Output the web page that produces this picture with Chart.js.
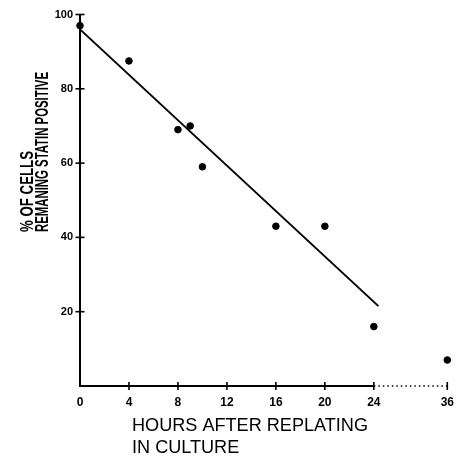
<!DOCTYPE html>
<html>
<head>
<meta charset="utf-8">
<script src="https://cdn.jsdelivr.net/npm/chart.js@4.4.1/dist/chart.umd.min.js"></script>
<style>
  html, body { margin: 0; padding: 0; background: #fff; }
  #wrap { width: 456px; height: 456px; }
</style>
</head>
<body>
<div id="wrap"><canvas id="c" width="456" height="456"></canvas></div>
<script>
// ---- data ----
const hours = [0, 4, 8, 9, 10, 16, 20, 24, 36];
const percentStatin = [97, 87.5, 69, 70, 59, 43, 43, 16, 7];
const fitHours = [0, 24.75];
const fitPercent = [96, 21.5];
const xTickHours = [0, 4, 8, 12, 16, 20, 24, 36];
const yTickValues = [20, 40, 60, 80, 100];
const xTitleLines = ["HOURS AFTER REPLATING", "IN CULTURE"];
const yTitleLines = ["% OF CELLS", "REMANING STATIN POSITIVE"];

// broken axis: hours beyond 24 are drawn compressed
const BREAK_HOUR = 24;
function axisPos(h) { return h <= BREAK_HOUR ? h : BREAK_HOUR + (h - BREAK_HOUR) * 0.5; }

const scatterData = hours.map((h, i) => ({ x: axisPos(h), y: percentStatin[i] }));
const fitData = fitHours.map((h, i) => ({ x: axisPos(h), y: fitPercent[i] }));

const PAD = { left: 4, right: 8.7, top: 14.5, bottom: 4 };
const AXIS_LEFT = 80, AXIS_BOTTOM = 386;

const decorPlugin = {
  id: 'decor',
  afterDraw(chart) {
    const ctx = chart.ctx;
    const xs = chart.scales.x, ys = chart.scales.y;
    const y0 = ys.getPixelForValue(0);
    const x0 = xs.getPixelForValue(0);
    const xBreak = xs.getPixelForValue(axisPos(BREAK_HOUR));
    const xEnd = xs.getPixelForValue(axisPos(36));
    ctx.save();
    ctx.strokeStyle = '#000';
    // solid x axis up to break
    ctx.lineWidth = 2;
    ctx.beginPath(); ctx.moveTo(x0 - 1, y0); ctx.lineTo(xBreak, y0); ctx.stroke();
    // dotted continuation
    ctx.lineWidth = 1.5;
    ctx.setLineDash([1.5, 3]);
    ctx.beginPath(); ctx.moveTo(xBreak, y0); ctx.lineTo(xEnd, y0); ctx.stroke();
    ctx.setLineDash([]);
    // tick crosses
    ctx.lineWidth = 1.6;
    xTickHours.forEach(h => {
      if (h === 0) return;
      const px = xs.getPixelForValue(axisPos(h));
      ctx.beginPath(); ctx.moveTo(px, y0 - 4); ctx.lineTo(px, y0 + 4); ctx.stroke();
    });
    yTickValues.forEach(v => {
      const py = ys.getPixelForValue(v);
      ctx.beginPath(); ctx.moveTo(x0 - 4.5, py); ctx.lineTo(x0 + 4.5, py); ctx.stroke();
    });
    // titles
    ctx.fillStyle = '#000';
    ctx.textAlign = 'left';
    ctx.textBaseline = 'alphabetic';
    // x title
    ctx.font = '18px "Liberation Sans", Arial, sans-serif';
    const sx = 236 / ctx.measureText(xTitleLines[0]).width;
    [[431, xTitleLines[0]], [453, xTitleLines[1]]].forEach(([by, t]) => {
      ctx.save(); ctx.translate(132, by); ctx.scale(sx, 1); ctx.fillText(t, 0, 0); ctx.restore();
    });
    // y title (rotated)
    ctx.font = 'bold 18px "Liberation Sans", Arial, sans-serif';
    [[32.5, yTitleLines[0], 81], [48, yTitleLines[1], 160]].forEach(([bx, t, w]) => {
      const s = w / ctx.measureText(t).width;
      ctx.save(); ctx.translate(bx, 232); ctx.rotate(-Math.PI / 2); ctx.scale(s, 1); ctx.fillText(t, 0, 0); ctx.restore();
    });
    ctx.restore();
  }
};

new Chart(document.getElementById('c'), {
  type: 'scatter',
  data: {
    datasets: [
      {
        type: 'line',
        data: fitData,
        borderColor: '#000',
        borderWidth: 2,
        pointRadius: 0,
        fill: false,
        clip: false
      },
      {
        type: 'scatter',
        data: scatterData,
        backgroundColor: '#000',
        borderColor: '#000',
        pointRadius: 3.3,
        pointHoverRadius: 3.3,
        clip: false
      }
    ]
  },
  options: {
    responsive: false,
    animation: false,
    events: [],
    layout: { padding: PAD },
    plugins: { legend: { display: false }, tooltip: { enabled: false } },
    scales: {
      x: {
        type: 'linear',
        min: 0,
        max: axisPos(36),
        grid: { display: false, drawTicks: false },
        border: { display: false },
        afterBuildTicks(scale) { scale.ticks = xTickHours.map(h => ({ value: axisPos(h) })); },
        afterFit(scale) {
          scale.height = 456 - AXIS_BOTTOM - PAD.bottom;
          scale.paddingLeft = 0; scale.paddingRight = 0;
        },
        ticks: {
          autoSkip: false,
          maxRotation: 0,
          padding: 9,
          color: '#000',
          font: { family: '"Liberation Sans", Arial, sans-serif', size: 12, weight: 'bold' },
          callback: (v, i) => String(xTickHours[i])
        }
      },
      y: {
        type: 'linear',
        min: 0,
        max: 100,
        grid: { display: false, drawTicks: false },
        border: { display: true, color: '#000', width: 2 },
        afterBuildTicks(scale) { scale.ticks = yTickValues.map(v => ({ value: v })); },
        afterFit(scale) {
          scale.width = AXIS_LEFT - PAD.left;
          scale.paddingTop = 0; scale.paddingBottom = 0;
        },
        ticks: {
          padding: 7,
          color: '#000',
          font: { family: '"Liberation Sans", Arial, sans-serif', size: 11, weight: 'bold' },
          callback: (v) => String(v)
        }
      }
    }
  },
  plugins: [decorPlugin]
});
</script>
</body>
</html>
